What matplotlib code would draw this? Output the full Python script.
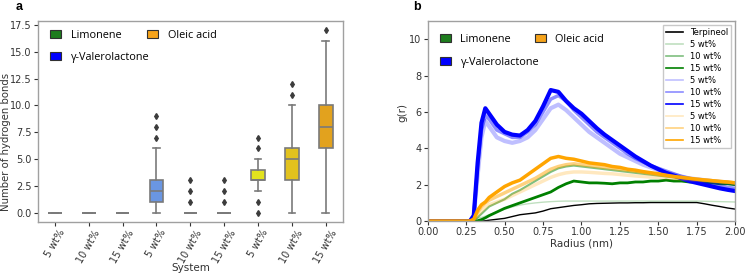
import matplotlib
matplotlib.use("Agg")
import matplotlib.pyplot as plt
from matplotlib.patches import Patch
from matplotlib.lines import Line2D

# ---------------- panel a data ----------------
systems = ["5 wt%", "10 wt%", "15 wt%", "5 wt%", "10 wt%", "15 wt%", "5 wt%", "10 wt%", "15 wt%"]
box_q1 = [0, 0, 0, 1, 0, 0, 3, 3, 6]
box_med = [0, 0, 0, 2, 0, 0, 3, 5, 8]
box_q3 = [0, 0, 0, 3, 0, 0, 4, 6, 10]
whis_lo = [0, 0, 0, 0, 0, 0, 2, 0, 0]
whis_hi = [0, 0, 0, 6, 0, 0, 5, 10, 16]
fliers = [[], [], [], [7, 8, 9], [1, 2, 3], [1, 2, 3], [0, 1, 6, 7], [11, 12], [17]]
box_colors = ["#3a8a3a", "#3a8a3a", "#3a8a3a", "#6a96e2", "#6a96e2", "#6a96e2",
              "#e2e21e", "#e2c21e", "#e2a21e"]

# ---------------- panel b data ----------------
r = [0.0, 0.25, 0.275, 0.3, 0.325, 0.35, 0.375, 0.4, 0.45, 0.5, 0.55, 0.6, 0.65, 0.7,
     0.75, 0.8, 0.85, 0.9, 0.95, 1.0, 1.05, 1.1, 1.15, 1.2, 1.25, 1.3, 1.35, 1.4, 1.45,
     1.5, 1.55, 1.6, 1.65, 1.7, 1.75, 1.8, 1.85, 1.9, 1.95, 2.0]
terpineol = [0, 0, 0, 0, 0, 0, 0.02, 0.05, 0.1, 0.15, 0.25, 0.35, 0.4, 0.45,
             0.55, 0.68, 0.74, 0.8, 0.86, 0.9, 0.95, 0.97, 0.98, 0.99, 1.0, 1.0, 1.01, 1.01, 1.02,
             1.02, 1.02, 1.02, 1.02, 1.02, 1.02, 0.95, 0.87, 0.8, 0.72, 0.66]
lim_5 = [0, 0.02, 0.06, 0.12, 0.16, 0.2, 0.27, 0.35, 0.5, 0.65, 0.78, 0.88, 0.95, 1.0,
         1.04, 1.07, 1.09, 1.1, 1.1, 1.1, 1.1, 1.1, 1.1, 1.1, 1.1, 1.1, 1.1, 1.1, 1.1,
         1.1, 1.1, 1.1, 1.1, 1.1, 1.1, 1.09, 1.08, 1.07, 1.06, 1.05]
lim_10 = [0, 0, 0, 0.05, 0.2, 0.4, 0.6, 0.8, 1.0, 1.2, 1.5, 1.7, 1.95, 2.2,
          2.45, 2.7, 2.9, 3.0, 3.05, 3.0, 2.95, 2.9, 2.85, 2.8, 2.75, 2.7, 2.65, 2.6, 2.55,
          2.5, 2.45, 2.4, 2.35, 2.3, 2.25, 2.22, 2.18, 2.15, 2.12, 2.1]
lim_15 = [0, 0, 0, 0, 0.02, 0.08, 0.18, 0.3, 0.5, 0.7, 0.85, 1.0, 1.15, 1.3,
          1.45, 1.6, 1.85, 2.05, 2.2, 2.15, 2.1, 2.1, 2.08, 2.05, 2.1, 2.1, 2.15, 2.15, 2.2,
          2.2, 2.25, 2.2, 2.2, 2.15, 2.15, 2.1, 2.1, 2.05, 2.05, 2.0]
gvl_5 = [0, 0, 0, 0.3, 2.5, 4.6, 5.5, 5.2, 4.6, 4.4, 4.3, 4.4, 4.6, 5.0,
         5.6, 6.2, 6.4, 6.1, 5.7, 5.3, 4.9, 4.6, 4.3, 4.0, 3.7, 3.5, 3.3, 3.1, 2.95,
         2.8, 2.65, 2.55, 2.45, 2.35, 2.3, 2.25, 2.2, 2.15, 2.1, 2.05]
gvl_10 = [0, 0, 0, 0.3, 3.0, 5.0, 5.8, 5.6, 5.0, 4.8, 4.6, 4.6, 4.9, 5.3,
          6.0, 6.7, 6.9, 6.6, 6.1, 5.7, 5.3, 4.9, 4.6, 4.3, 4.0, 3.7, 3.45, 3.25, 3.05,
          2.9, 2.75, 2.6, 2.45, 2.35, 2.25, 2.15, 2.05, 1.95, 1.85, 1.8]
gvl_15 = [0, 0, 0, 0.3, 3.2, 5.4, 6.2, 5.9, 5.3, 4.9, 4.75, 4.7, 5.0, 5.5,
          6.3, 7.2, 7.1, 6.6, 6.2, 5.9, 5.5, 5.1, 4.75, 4.45, 4.15, 3.85, 3.55, 3.3, 3.05,
          2.85, 2.65, 2.5, 2.35, 2.2, 2.1, 2.0, 1.9, 1.8, 1.72, 1.65]
ole_5 = [0, 0, 0, 0.05, 0.3, 0.55, 0.75, 0.9, 1.05, 1.2, 1.4, 1.6, 1.8, 2.0,
         2.2, 2.4, 2.55, 2.65, 2.7, 2.7, 2.68, 2.65, 2.62, 2.6, 2.56, 2.52, 2.48, 2.45, 2.42,
         2.4, 2.37, 2.34, 2.31, 2.28, 2.25, 2.22, 2.19, 2.16, 2.13, 2.1]
ole_10 = [0, 0, 0, 0.1, 0.5, 0.8, 1.0, 1.15, 1.35, 1.55, 1.75, 1.95, 2.15, 2.35,
          2.6, 2.85, 3.0, 3.1, 3.15, 3.1, 3.05, 3.0, 2.95, 2.9, 2.85, 2.8, 2.74, 2.68, 2.62,
          2.56, 2.5, 2.45, 2.4, 2.35, 2.3, 2.26, 2.22, 2.18, 2.14, 2.1]
ole_15 = [0, 0, 0, 0.1, 0.6, 0.9, 1.05, 1.3, 1.6, 1.9, 2.1, 2.25, 2.55, 2.85,
          3.15, 3.45, 3.55, 3.45, 3.4, 3.3, 3.2, 3.15, 3.1, 3.0, 2.95, 2.85, 2.8, 2.72, 2.66,
          2.6, 2.52, 2.45, 2.4, 2.35, 2.3, 2.26, 2.22, 2.18, 2.15, 2.1]

cat_names = ["Limonene", "γ-Valerolactone", "Oleic acid"]
cat_colors = ["#1e7d1e", "#0000ff", "#f5a31a"]

tick_col = "#333333"
spine_col = "#a0a0a0"
TS = 7

fig = plt.figure(figsize=(7.45, 2.75), dpi=100)
ax1 = fig.add_axes([0.051, 0.193, 0.409, 0.731])
ax2 = fig.add_axes([0.574, 0.196, 0.413, 0.728])

# ---------------- panel a ----------------
stats = []
for i in range(len(systems)):
    stats.append(dict(q1=box_q1[i], med=box_med[i], q3=box_q3[i],
                      whislo=whis_lo[i], whishi=whis_hi[i], fliers=fliers[i]))
lc = "#7a7a7a"
bp = ax1.bxp(stats, positions=range(len(systems)), widths=0.4, patch_artist=True,
             boxprops=dict(edgecolor=lc, linewidth=1.2),
             medianprops=dict(color=lc, linewidth=1.2),
             whiskerprops=dict(color=lc, linewidth=1.2),
             capprops=dict(color=lc, linewidth=1.2),
             flierprops=dict(marker="d", markersize=3, markerfacecolor="#3c3c3c",
                             markeredgecolor="#3c3c3c"))
for patch, c in zip(bp["boxes"], box_colors):
    patch.set_facecolor(c)
ax1.set_xlim(-0.5, len(systems) - 0.5)
ax1.set_ylim(-0.87, 17.87)
ax1.set_yticks([0, 2.5, 5, 7.5, 10, 12.5, 15, 17.5])
ax1.set_yticklabels(["0.0", "2.5", "5.0", "7.5", "10.0", "12.5", "15.0", "17.5"])
ax1.set_xticks(range(len(systems)))
ax1.set_xticklabels(systems, rotation=60, ha="center")
ax1.set_xlabel("System", fontsize=7.5, color=tick_col)
ax1.xaxis.set_label_coords(0.5, -0.205)
ax1.set_ylabel("Number of hydrogen bonds", fontsize=7.3, color=tick_col)
ax1.yaxis.set_label_coords(-0.087, 0.40)

handles = [Patch(facecolor=c, edgecolor="#303030", linewidth=0.8) for c in cat_colors]
ax1.legend(handles, cat_names, ncol=2, loc="upper left", frameon=False,
           handlelength=1.0, handleheight=0.75, columnspacing=-0.2, handletextpad=0.9,
           prop={"family": "Open Sans", "size": 7.8},
           bbox_to_anchor=(0.01, 1.0), labelspacing=1.0, borderpad=0.35)

# ---------------- panel b ----------------
curves = [
    (terpineol, "black", 1.0, 1.0, "Terpineol"),
    (lim_5, "green", 0.25, 1.0, "5 wt%"),
    (lim_10, "green", 0.5, 1.5, "10 wt%"),
    (lim_15, "green", 1.0, 2.0, "15 wt%"),
    (gvl_5, "blue", 0.25, 3.0, "5 wt%"),
    (gvl_10, "blue", 0.45, 2.5, "10 wt%"),
    (gvl_15, "blue", 1.0, 3.0, "15 wt%"),
    (ole_5, "orange", 0.25, 2.5, "5 wt%"),
    (ole_10, "orange", 0.5, 2.5, "10 wt%"),
    (ole_15, "orange", 1.0, 2.5, "15 wt%"),
]
line_handles = []
for y, c, a, lw, lab in curves:
    ax2.plot(r, y, color=c, alpha=a, lw=lw)
    line_handles.append(Line2D([], [], color=c, alpha=a, lw=1.2))
ax2.set_xlim(0, 2.0)
ax2.set_ylim(0, 11)
ax2.set_xticks([0, 0.25, 0.5, 0.75, 1.0, 1.25, 1.5, 1.75, 2.0])
ax2.set_xticklabels(["0.00", "0.25", "0.50", "0.75", "1.00", "1.25", "1.50", "1.75", "2.00"])
ax2.set_yticks([0, 2, 4, 6, 8, 10])
ax2.set_xlabel("Radius (nm)", fontsize=7.5, color=tick_col, labelpad=1)
ax2.set_ylabel("g(r)", fontsize=7.5, color=tick_col)
ax2.yaxis.set_label_coords(-0.065, 0.54)

leg2 = ax2.legend(line_handles, [c[4] for c in curves], loc="upper right", fontsize=6,
                  handlelength=2.0, labelspacing=0.35, borderpad=0.4,
                  framealpha=1, edgecolor="#c8c8c8", fancybox=False)
ax2.add_artist(leg2)
handles2 = [Patch(facecolor=c, edgecolor="#303030", linewidth=0.8) for c in cat_colors]
ax2.legend(handles2, cat_names, ncol=2, loc="upper left", frameon=False,
           handlelength=1.0, handleheight=0.75, columnspacing=-0.4, handletextpad=0.9,
           prop={"family": "Open Sans", "size": 7.8},
           bbox_to_anchor=(0.01, 0.98), labelspacing=1.1, borderpad=0.35)

for ax in (ax1, ax2):
    for s in ax.spines.values():
        s.set_color(spine_col)
        s.set_linewidth(1.0)
    ax.tick_params(labelsize=TS, colors=tick_col, length=3, width=0.8, pad=1.5)

fig.text(0.0215, 0.965, "a", fontsize=9, fontweight="bold", family="Liberation Sans")
fig.text(0.554, 0.965, "b", fontsize=9, fontweight="bold", family="Liberation Sans")

fig.savefig("out.png", dpi=100)
